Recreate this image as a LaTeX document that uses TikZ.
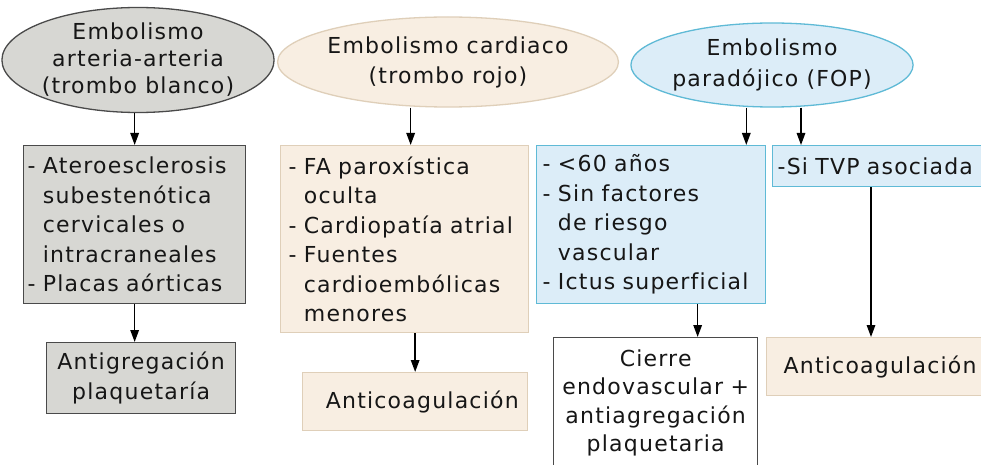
\documentclass[tikz,border=0pt]{standalone}
\usepackage{fontspec}
\setmainfont{DejaVu Sans}[LetterSpace=5.5,Ligatures=NoCommon]
\usetikzlibrary{shapes.geometric,arrows.meta}
\definecolor{grayfill}{HTML}{D7D7D3}
\definecolor{grayline}{HTML}{4A4A4A}
\definecolor{beigefill}{HTML}{F8EEE2}
\definecolor{beigeline}{HTML}{DFCFB9}
\definecolor{bluefill}{HTML}{DCEDF8}
\definecolor{blueline}{HTML}{5FBAD6}
\definecolor{txt}{HTML}{161616}
\begin{document}
\begin{tikzpicture}[x=1pt,y=-1pt,
  every node/.style={font=\fontsize{22pt}{29.5pt}\selectfont, text=txt},
  ell/.style={ellipse, draw, line width=1.3pt, inner sep=0pt, align=center},
  box/.style={rectangle, draw, line width=1.3pt, anchor=north west, inner ysep=0pt},
  arr/.style={line width=1.5pt, draw=black, -{Triangle[length=12pt,width=8.5pt]}}]
\useasboundingbox (0,0) rectangle (981,465);
\clip (0,0) rectangle (981,465);
\fill[white] (0,0) rectangle (981,465);

% column 1
\node[ell, fill=grayfill, draw=grayline, minimum width=253pt, minimum height=105pt,
      font=\fontsize{22pt}{27pt}\selectfont] (e1) at (138,60)
  {Embolismo\\arteria-arteria\\(trombo blanco)};
\node[box, fill=grayfill, draw=grayline, text width=214pt, inner xsep=4pt,
      minimum height=158pt, align=left] (b1) at (23,145)
  {- Ateroesclerosis\\\phantom{- }subestenótica\\\phantom{- }cervicales o\\\phantom{- }intracraneales\\- Placas aórticas};
\node[box, fill=grayfill, draw=grayline, text width=181pt, inner xsep=4pt,
      minimum height=71pt, align=center] (b2) at (46,342)
  {Antigregación\\plaquetaría};

% column 2
\node[ell, fill=beigefill, draw=beigeline, minimum width=287pt, minimum height=90pt,
      font=\fontsize{22pt}{30pt}\selectfont] (e2) at (448,62)
  {Embolismo cardiaco\\(trombo rojo)};
\node[box, fill=beigefill, draw=beigeline, text width=232pt, inner xsep=8pt,
      minimum height=187pt, align=left] (b3) at (280,145)
  {- FA paroxística\\\phantom{- }oculta\\- Cardiopatía atrial\\- Fuentes\\\phantom{- }cardioembólicas\\\phantom{- }menores};
\node[box, fill=beigefill, draw=beigeline, text width=207pt, inner xsep=9pt,
      minimum height=58pt, align=right] (b4) at (302,372)
  {Anticoagulación};

% column 3
\node[ell, fill=bluefill, draw=blueline, minimum width=249pt, minimum height=84pt,
      font=\fontsize{22pt}{31pt}\selectfont] (e3) at (772,65)
  {Embolismo\\paradójico (FOP)};
\node[box, fill=bluefill, draw=blueline, text width=217pt, inner xsep=6pt,
      minimum height=158pt, align=left] (b5) at (536,145)
  {- <60 años\\- Sin factores\\\phantom{- }de riesgo\\\phantom{- }vascular\\- Ictus superficial};
\node[box, fill=bluefill, draw=blueline, text width=230pt, inner xsep=5pt,
      minimum height=41pt, align=left] (b6) at (772,145)
  {-Si TVP asociada};
\node[box, fill=white, draw=grayline, text width=196pt, inner xsep=4pt,
      inner ysep=12pt, align=center, font=\fontsize{22pt}{28.5pt}\selectfont] (b7) at (553,337)
  {Cierre\\endovascular +\\antiagregación\\plaquetaria\rule[-15pt]{0pt}{15pt}};
\node[box, fill=beigefill, draw=beigeline, text width=206pt, inner xsep=17pt,
      minimum height=58pt, align=left] (b8) at (766,337)
  {Anticoagulación};

% arrows
\draw[arr] (b1.north |- e1.south) -- (b1.north);
\draw[arr] (b1.south) -- (b1.south |- b2.north);
\draw[arr] ([xshift=6pt]b3.north |- e2.south) -- ([xshift=6pt]b3.north);
\draw[arr] (b4.north |- b3.south) -- (b4.north);
\draw[arr] ([xshift=-20pt]b5.north east |- e3.south) -- ([xshift=-20pt]b5.north east);
\draw[arr] ([xshift=29pt]b6.north west |- e3.south) -- ([xshift=29pt]b6.north west);
\draw[arr] ([xshift=42pt]b7.north |- b5.south) -- ([xshift=42pt]b7.north);
\draw[arr] ([xshift=99pt]b6.south west) -- ([xshift=99pt]b6.south west |- b8.north);
\end{tikzpicture}
\end{document}
